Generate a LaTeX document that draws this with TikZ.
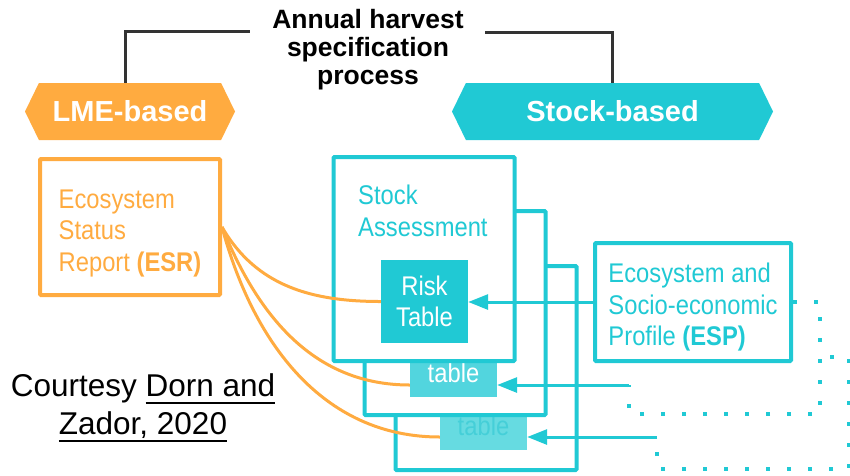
\documentclass[tikz,border=0pt]{standalone}
\usepackage{fontspec}
\setmainfont{Liberation Sans}
\newfontfamily\narrowsf{Liberation Sans}[FakeStretch=0.88]
\usetikzlibrary{arrows.meta, shapes.symbols}

\definecolor{esrorange}{HTML}{FFAB40}
\definecolor{stockteal}{HTML}{20C9D4}
\definecolor{tablemid}{HTML}{52D5DE}
\definecolor{tablelight}{HTML}{66DBE1}
\definecolor{tabletext}{HTML}{45CFD8}
\definecolor{bracketgray}{HTML}{333333}

% underlined reference text
\newcommand{\ulink}[1]{\setbox0\hbox{#1}\rlap{\rule[-7pt]{\wd0}{2pt}}\box0}

\begin{document}
\begin{tikzpicture}[x=1pt, y=-1pt,
  hexa/.style={signal, signal to=west and east, signal pointer angle=128,
    minimum height=57pt, inner sep=0pt, text=white,
    font=\fontsize{29}{30}\selectfont\bfseries},
  bracket/.style={draw=bracketgray, line width=3pt},
  sabox/.style={draw=stockteal, line width=4pt, fill=white, rounded corners=1pt,
    minimum width=181pt, minimum height=204pt, inner sep=0pt},
  boxtext/.style={font=\fontsize{27}{31.5}\narrowsf, align=left, inner sep=0pt},
  tbl/.style={minimum width=87pt, inner sep=0pt, anchor=north,
    font=\fontsize{27}{31.5}\narrowsf, text=white},
  feed/.style={draw=stockteal, line width=3pt, -{Triangle[length=20pt, width=15pt]}},
  loopback/.style={draw=stockteal, line width=4pt, dash pattern=on 4pt off 17pt},
  link/.style={draw=esrorange, line width=3pt}
]
\useasboundingbox (0,0) rectangle (850,475);

% Top heading and the two branches
\node[font=\fontsize{26.5}{28}\selectfont\bfseries, align=center, inner sep=0pt]
  (title) at (368,49.5) {Annual harvest\\specification\\process};
\node[hexa, fill=esrorange, minimum width=210pt] (LME) at (130,111.5) {LME-based};
\node[hexa, fill=stockteal, minimum width=321pt] (Stock) at (612.5,111.5) {Stock-based};

\coordinate (capL) at (250,31);
\coordinate (capR) at (485,32);
\draw[bracket] ([xshift=-5pt]LME.north) |- (capL);
\draw[bracket] (Stock.north) |- (capR);

% Ecosystem status report
\node[draw=esrorange, line width=4pt, rounded corners=1pt, minimum width=180pt,
  minimum height=136pt, boxtext, text=esrorange]
  (ESR) at (130,227) {\rule{0pt}{31.5pt}Ecosystem\\Status\\Report \textbf{(ESR)}};

% Stack of stock assessments (back to front)
\node[sabox] (SA3) at (486,368) {};
\node[tbl, fill=tablelight, text=tabletext, text height=18pt, text depth=15pt]
  (table3) at (483.5,417) {table};
\node[sabox] (SA2) at (455,313) {};
\node[tbl, fill=tablemid, text height=19pt, text depth=15pt]
  (table2) at (453.5,363) {table};
\node[sabox] (SA1) at (424,259) {};
\node[boxtext, text=stockteal, anchor=north west] (SAtext) at (358,185) {Stock\\Assessment};
\node[tbl, fill=stockteal, minimum height=83pt, align=center, anchor=center]
  (Risk) at (424.5,301.5) {Risk\\Table};

% Ecosystem and socio-economic profile
\node[draw=stockteal, line width=4pt, rounded corners=1pt, minimum width=196pt,
  minimum height=118pt, boxtext, text=stockteal]
  (ESP) at (693,302) {\rule{0pt}{30pt}Ecosystem and\\Socio-economic\\Profile \textbf{(ESP)}};

% ESP feeds into each risk table
\coordinate (j2) at (629,385);
\coordinate (j3) at (657,437);
\coordinate (esp3) at (830,357);
\draw[feed] (ESP.west) -- (ESP.west -| Risk.east);
\draw[loopback] (ESP.east) -- ++(27,0) -- ++(0,112) -| (j2);
\draw[feed] (j2) -- (j2 -| table2.east);
\draw[loopback] (esp3) -- ++(19,0) -- ++(0,112) -| (j3);
\draw[feed] (j3) -- (j3 -| table3.east);

% ESR links
\draw[link] (ESR.east) to[out=-60, in=180] (Risk.west);
\draw[link] (ESR.east) to[out=-68, in=180] (j2 -| table2.west);
\draw[link] (ESR.east) to[out=-75, in=180] (j3 -| table3.west);

% Credit
\node[font=\fontsize{31.5}{38}\selectfont, align=center, inner sep=0pt]
  (credit) at (143,408) {Courtesy \ulink{Dorn and}\\\ulink{Zador, 2020}};
\end{tikzpicture}
\end{document}
